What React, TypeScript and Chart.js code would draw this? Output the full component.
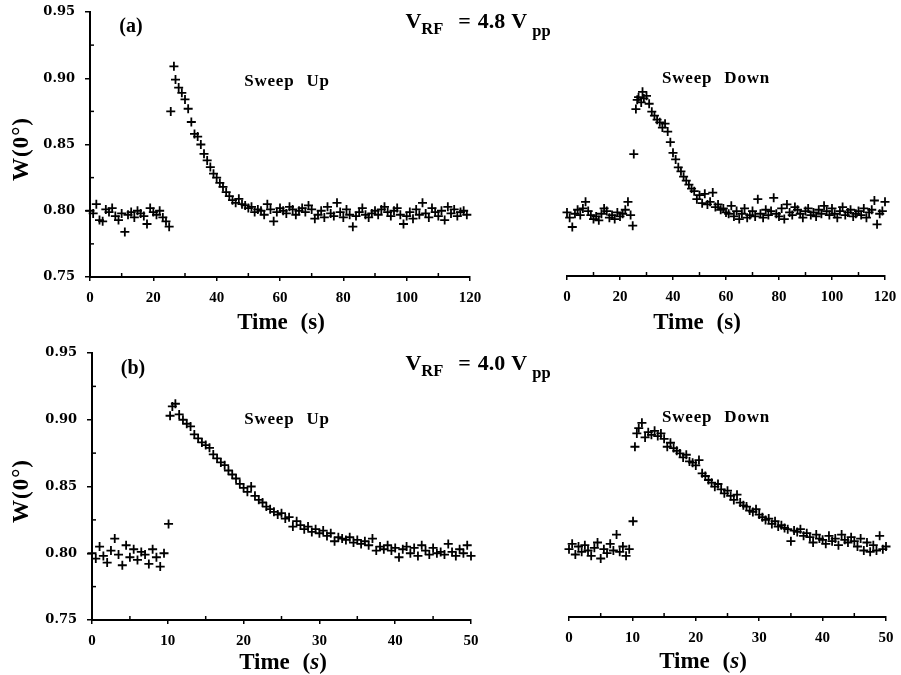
import React, { useEffect, useRef } from "react";
import { Chart, registerables } from "chart.js";

Chart.register(...registerables);

// ---------- Data ----------
// (a) V_RF = 4.8 Vpp, Sweep Up
const aUpTime = [0,1,2,3,4,5,6,7,8,9,10,11,12,13,14,15,16,17,18,19,20,21,22,23,24,25,25.5,26.5,27,28,29,30,31,32,33,34,35,36,37,38,39,40,41,42,43,44,45,46,47,48,49,50,51,52,53,54,55,56,57,58,59,60,61,62,63,64,65,66,67,68,69,70,71,72,73,74,75,76,77,78,79,80,81,82,83,84,85,86,87,88,89,90,91,92,93,94,95,96,97,98,99,100,101,102,103,104,105,106,107,108,109,110,111,112,113,114,115,116,117,118,119];
const aUpW = [0.800,0.798,0.805,0.793,0.792,0.801,0.799,0.802,0.796,0.793,0.798,0.784,0.797,0.799,0.795,0.800,0.798,0.796,0.790,0.802,0.799,0.797,0.800,0.795,0.792,0.788,0.875,0.909,0.899,0.893,0.889,0.884,0.877,0.867,0.858,0.856,0.850,0.843,0.838,0.833,0.828,0.825,0.821,0.818,0.814,0.811,0.808,0.806,0.809,0.805,0.804,0.802,0.803,0.799,0.801,0.800,0.797,0.805,0.801,0.792,0.799,0.802,0.800,0.798,0.803,0.801,0.797,0.800,0.802,0.799,0.804,0.801,0.794,0.797,0.800,0.795,0.803,0.798,0.796,0.806,0.799,0.795,0.801,0.797,0.788,0.796,0.799,0.802,0.797,0.795,0.798,0.800,0.797,0.801,0.803,0.799,0.796,0.800,0.802,0.797,0.790,0.796,0.799,0.794,0.801,0.797,0.806,0.798,0.795,0.802,0.799,0.796,0.800,0.793,0.803,0.798,0.801,0.796,0.799,0.800,0.797];

// (a) V_RF = 4.8 Vpp, Sweep Down
const aDownTime = [0,1,2,3,4,5,6,7,8,9,10,11,12,13,14,15,16,17,18,19,20,21,22,23,24,24.8,25.2,26,26.5,27,28,28.5,29,30,31,32,33,34,35,36,37,38,39,40,41,42,43,44,45,46,47,48,49,50,51,52,53,54,55,56,57,58,59,60,61,62,63,64,65,66,67,68,69,70,71,72,73,74,75,76,77,78,79,80,81,82,83,84,85,86,87,88,89,90,91,92,93,94,95,96,97,98,99,100,101,102,103,104,105,106,107,108,109,110,111,112,113,114,115,116,117,118,119,120];
const aDownW = [0.798,0.794,0.787,0.797,0.800,0.796,0.801,0.806,0.799,0.796,0.793,0.795,0.792,0.797,0.801,0.799,0.794,0.796,0.793,0.798,0.795,0.797,0.800,0.806,0.796,0.788,0.842,0.876,0.883,0.885,0.881,0.889,0.884,0.886,0.880,0.874,0.871,0.868,0.866,0.862,0.865,0.859,0.851,0.843,0.838,0.832,0.829,0.825,0.822,0.819,0.816,0.814,0.808,0.811,0.805,0.812,0.804,0.806,0.813,0.802,0.804,0.800,0.801,0.798,0.797,0.803,0.795,0.799,0.793,0.797,0.801,0.794,0.796,0.799,0.795,0.808,0.797,0.794,0.800,0.796,0.799,0.809,0.797,0.795,0.801,0.793,0.804,0.798,0.796,0.802,0.800,0.797,0.794,0.799,0.801,0.796,0.798,0.795,0.800,0.797,0.803,0.799,0.796,0.801,0.797,0.794,0.799,0.802,0.796,0.798,0.800,0.795,0.797,0.799,0.796,0.801,0.794,0.798,0.800,0.807,0.789,0.797,0.799,0.806];

// (b) V_RF = 4.0 Vpp, Sweep Up
const bUpTime = [0,0.5,1,1.5,2,2.5,3,3.5,4,4.5,5,5.5,6,6.5,7,7.5,8,8.5,9,9.5,10.1,10.3,10.6,11,11.5,12,12.5,13,13.5,14,14.5,15,15.5,16,16.5,17,17.5,18,18.5,19,19.5,20,20.5,21,21.5,22,22.5,23,23.5,24,24.5,25,25.5,26,26.5,27,27.5,28,28.5,29,29.5,30,30.5,31,31.5,32,32.5,33,33.5,34,34.5,35,35.5,36,36.5,37,37.5,38,38.5,39,39.5,40,40.5,41,41.5,42,42.5,43,43.5,44,44.5,45,45.5,46,46.5,47,47.5,48,48.5,49,49.5,50];
const bUpW = [0.800,0.796,0.805,0.798,0.793,0.802,0.811,0.799,0.791,0.806,0.797,0.803,0.795,0.801,0.799,0.792,0.803,0.797,0.790,0.800,0.822,0.903,0.910,0.912,0.904,0.900,0.897,0.895,0.889,0.886,0.883,0.881,0.879,0.874,0.871,0.868,0.866,0.862,0.859,0.856,0.852,0.849,0.846,0.850,0.843,0.840,0.838,0.835,0.833,0.831,0.829,0.830,0.826,0.827,0.820,0.824,0.821,0.818,0.820,0.816,0.818,0.815,0.817,0.813,0.815,0.809,0.812,0.811,0.810,0.812,0.808,0.810,0.807,0.809,0.806,0.811,0.802,0.805,0.803,0.806,0.802,0.804,0.797,0.803,0.805,0.800,0.804,0.798,0.806,0.802,0.799,0.804,0.800,0.801,0.799,0.807,0.801,0.798,0.803,0.800,0.806,0.798];

// (b) V_RF = 4.0 Vpp, Sweep Down
const bDownTime = [0,0.5,1,1.5,2,2.5,3,3.5,4,4.5,5,5.5,6,6.5,7,7.5,8,8.5,9,9.5,10.1,10.4,10.7,11,11.5,12,12.5,13,13.5,14,14.5,15,15.5,16,16.5,17,17.5,18,18.5,19,19.5,20,20.5,21,21.5,22,22.5,23,23.5,24,24.5,25,25.5,26,26.5,27,27.5,28,28.5,29,29.5,30,30.5,31,31.5,32,32.5,33,33.5,34,34.5,35,35.5,36,36.5,37,37.5,38,38.5,39,39.5,40,40.5,41,41.5,42,42.5,43,43.5,44,44.5,45,45.5,46,46.5,47,47.5,48,48.5,49,49.5,50];
const bDownW = [0.801,0.805,0.797,0.803,0.799,0.804,0.800,0.796,0.802,0.806,0.794,0.801,0.798,0.805,0.800,0.812,0.799,0.803,0.796,0.801,0.822,0.878,0.888,0.892,0.896,0.885,0.889,0.887,0.890,0.886,0.888,0.884,0.878,0.881,0.877,0.875,0.873,0.870,0.872,0.867,0.866,0.864,0.868,0.858,0.856,0.853,0.851,0.848,0.850,0.846,0.843,0.845,0.841,0.838,0.842,0.836,0.834,0.833,0.830,0.829,0.831,0.827,0.825,0.823,0.824,0.820,0.822,0.818,0.819,0.817,0.816,0.807,0.815,0.814,0.816,0.811,0.813,0.810,0.806,0.812,0.809,0.808,0.805,0.811,0.807,0.809,0.804,0.812,0.808,0.806,0.810,0.807,0.803,0.809,0.800,0.806,0.799,0.804,0.800,0.811,0.801,0.803];

// Axis ticks
const yTickMin = 0.75;
const yTickMax = 0.95;
const yTickStep = 0.05;
const yMinorTicks = [0.775, 0.825, 0.875, 0.925];
const aXMax = 120;
const aXStep = 20;
const aXMinor = [10, 30, 50, 70, 90, 110];
const bXMax = 50;
const bXStep = 10;
const bXMinor = [5, 15, 25, 35, 45];

// ---------- Chart helpers ----------
const W = 901;
const H = 675;
const SERIF = "'Liberation Serif', 'Times New Roman', serif";

const minorTickPlugin = {
  id: "minorTicks",
  afterDraw(chart: any, _args: any, opts: any) {
    const ctx = chart.ctx;
    const area = chart.chartArea;
    ctx.save();
    ctx.strokeStyle = "#000";
    ctx.lineWidth = 1.5;
    const xs = chart.scales.x;
    (opts.x || []).forEach((v: number) => {
      const px = xs.getPixelForValue(v);
      ctx.beginPath();
      ctx.moveTo(px, area.bottom);
      ctx.lineTo(px, area.bottom - 4);
      ctx.stroke();
    });
    if (opts.y && chart.scales.y.options.display) {
      const ys = chart.scales.y;
      opts.y.forEach((v: number) => {
        const py = ys.getPixelForValue(v);
        ctx.beginPath();
        ctx.moveTo(area.left, py);
        ctx.lineTo(area.left + 4, py);
        ctx.stroke();
      });
    }
    ctx.restore();
  },
};

type Panel = {
  times: number[];
  values: number[];
  xMax: number;
  xStep: number;
  xMinor: number[];
  showY: boolean;
  area: { l: number; t: number; r: number; b: number };
};

const Y_AXIS_W = 60;
const X_AXIS_H = 36;

function makeConfig(p: Panel): any {
  const points = p.times.map((t, i) => ({ x: t, y: p.values[i] }));
  const padLeft = p.showY ? p.area.l - Y_AXIS_W : p.area.l;
  return {
    type: "scatter",
    data: {
      datasets: [
        {
          data: points,
          pointStyle: "cross",
          pointRadius: 4.5,
          pointHoverRadius: 4.5,
          borderColor: "#000",
          backgroundColor: "#000",
          borderWidth: 1.8,
          showLine: false,
          clip: false,
        },
      ],
    },
    options: {
      responsive: false,
      animation: false,
      events: [],
      layout: {
        padding: {
          left: padLeft,
          top: p.area.t,
          right: W - p.area.r,
          bottom: H - p.area.b - X_AXIS_H,
        },
      },
      plugins: {
        legend: { display: false },
        tooltip: { enabled: false },
        minorTicks: { x: p.xMinor, y: yMinorTicks },
      },
      scales: {
        x: {
          type: "linear",
          min: 0,
          max: p.xMax,
          afterFit(scale: any) {
            scale.height = X_AXIS_H;
            scale.paddingLeft = 0;
            scale.paddingRight = 0;
          },
          ticks: {
            stepSize: p.xStep,
            color: "#000",
            padding: 8,
            maxRotation: 0,
            autoSkip: false,
            font: { family: SERIF, size: 15, weight: "bold" },
          },
          grid: {
            display: true,
            drawOnChartArea: false,
            drawTicks: true,
            tickLength: 4,
            color: "#000",
            lineWidth: 1.5,
          },
          border: { display: true, color: "#000", width: 2 },
        },
        y: {
          type: "linear",
          display: p.showY,
          min: yTickMin,
          max: yTickMax,
          afterFit(scale: any) {
            scale.width = Y_AXIS_W;
            scale.paddingTop = 0;
            scale.paddingBottom = 0;
          },
          ticks: {
            stepSize: yTickStep,
            color: "#000",
            padding: 10,
            font: { family: "'DejaVu Serif', serif", size: 13, weight: "bold" },
            callback: (v: number) => Number(v).toFixed(2),
          },
          grid: {
            display: true,
            drawOnChartArea: false,
            drawTicks: true,
            tickLength: 5,
            color: "#000",
            lineWidth: 1.5,
          },
          border: { display: true, color: "#000", width: 2 },
        },
      },
    },
    plugins: [minorTickPlugin],
  };
}

const panels: Panel[] = [
  { times: aUpTime, values: aUpW, xMax: aXMax, xStep: aXStep, xMinor: aXMinor, showY: true, area: { l: 90, t: 12, r: 470, b: 277 } },
  { times: aDownTime, values: aDownW, xMax: aXMax, xStep: aXStep, xMinor: aXMinor, showY: false, area: { l: 507, t: 11, r: 885, b: 276 } },
  { times: bUpTime, values: bUpW, xMax: bXMax, xStep: bXStep, xMinor: bXMinor, showY: true, area: { l: 92, t: 353, r: 471, b: 620 } },
  { times: bDownTime, values: bDownW, xMax: bXMax, xStep: bXStep, xMinor: bXMinor, showY: false, area: { l: 509, t: 351, r: 886, b: 617 } },
];

function PanelCanvas({ panel }: { panel: Panel }) {
  const ref = useRef<HTMLCanvasElement | null>(null);
  useEffect(() => {
    if (!ref.current) return;
    const chart = new Chart(ref.current, makeConfig(panel));
    return () => chart.destroy();
  }, [panel]);
  return (
    <canvas
      ref={ref}
      width={W}
      height={H}
      style={{ position: "absolute", left: 0, top: 0, width: W, height: H }}
    />
  );
}

function Label({
  x,
  y,
  size,
  rotate,
  style,
  children,
}: {
  x: number;
  y: number;
  size: number;
  rotate?: number;
  style?: React.CSSProperties;
  children: React.ReactNode;
}) {
  return (
    <div
      style={{
        position: "absolute",
        left: x,
        top: y,
        transform: `translate(-50%, -50%)${rotate ? ` rotate(${rotate}deg)` : ""}`,
        fontFamily: SERIF,
        fontWeight: "bold",
        fontSize: size,
        whiteSpace: "nowrap",
        lineHeight: 1,
        color: "#000",
        ...style,
      }}
    >
      {children}
    </div>
  );
}

function Vrf({ value }: { value: string }) {
  return (
    <span>
      V<sub style={{ fontSize: "0.75em", verticalAlign: "-0.35em" }}>RF</sub>
      <span style={{ marginLeft: 15 }}>=</span>
      <span style={{ marginLeft: 7 }}>{value}</span>
      <span style={{ marginLeft: 6 }}>V</span>
      <sub style={{ fontSize: "0.75em", verticalAlign: "-0.5em", marginLeft: 5 }}>pp</sub>
    </span>
  );
}

const timeLabelTop = (
  <span style={{ wordSpacing: 7 }}>Time (s)</span>
);
const timeLabelBottom = (
  <span style={{ wordSpacing: 7 }}>
    Time (<i>s</i>)
  </span>
);

const sweepStyle: React.CSSProperties = { wordSpacing: 7, letterSpacing: 0.8 };

export default function App() {
  return (
    <div
      style={{
        position: "absolute",
        left: 0,
        top: 0,
        width: W,
        height: H,
        background: "#fff",
        overflow: "hidden",
      }}
    >
      {panels.map((p, i) => (
        <PanelCanvas key={i} panel={p} />
      ))}

      {/* y-axis titles */}
      <Label x={20} y={149} size={23} rotate={-90} style={{ letterSpacing: 1 }}>W(0°)</Label>
      <Label x={20} y={491} size={23} rotate={-90} style={{ letterSpacing: 1 }}>W(0°)</Label>

      {/* panel tags */}
      <Label x={131} y={25} size={20}>(a)</Label>
      <Label x={133} y={367} size={20}>(b)</Label>

      {/* voltage headers */}
      <Label x={478} y={25} size={22}><Vrf value="4.8" /></Label>
      <Label x={478} y={367} size={22}><Vrf value="4.0" /></Label>

      {/* sweep annotations */}
      <Label x={287} y={80} size={17} style={sweepStyle}>Sweep Up</Label>
      <Label x={716} y={77} size={17} style={sweepStyle}>Sweep Down</Label>
      <Label x={287} y={418} size={17} style={sweepStyle}>Sweep Up</Label>
      <Label x={716} y={416} size={17} style={sweepStyle}>Sweep Down</Label>

      {/* x-axis titles */}
      <Label x={281} y={321} size={23}>{timeLabelTop}</Label>
      <Label x={697} y={321} size={23}>{timeLabelTop}</Label>
      <Label x={283} y={661} size={23}>{timeLabelBottom}</Label>
      <Label x={703} y={660} size={23}>{timeLabelBottom}</Label>
    </div>
  );
}
